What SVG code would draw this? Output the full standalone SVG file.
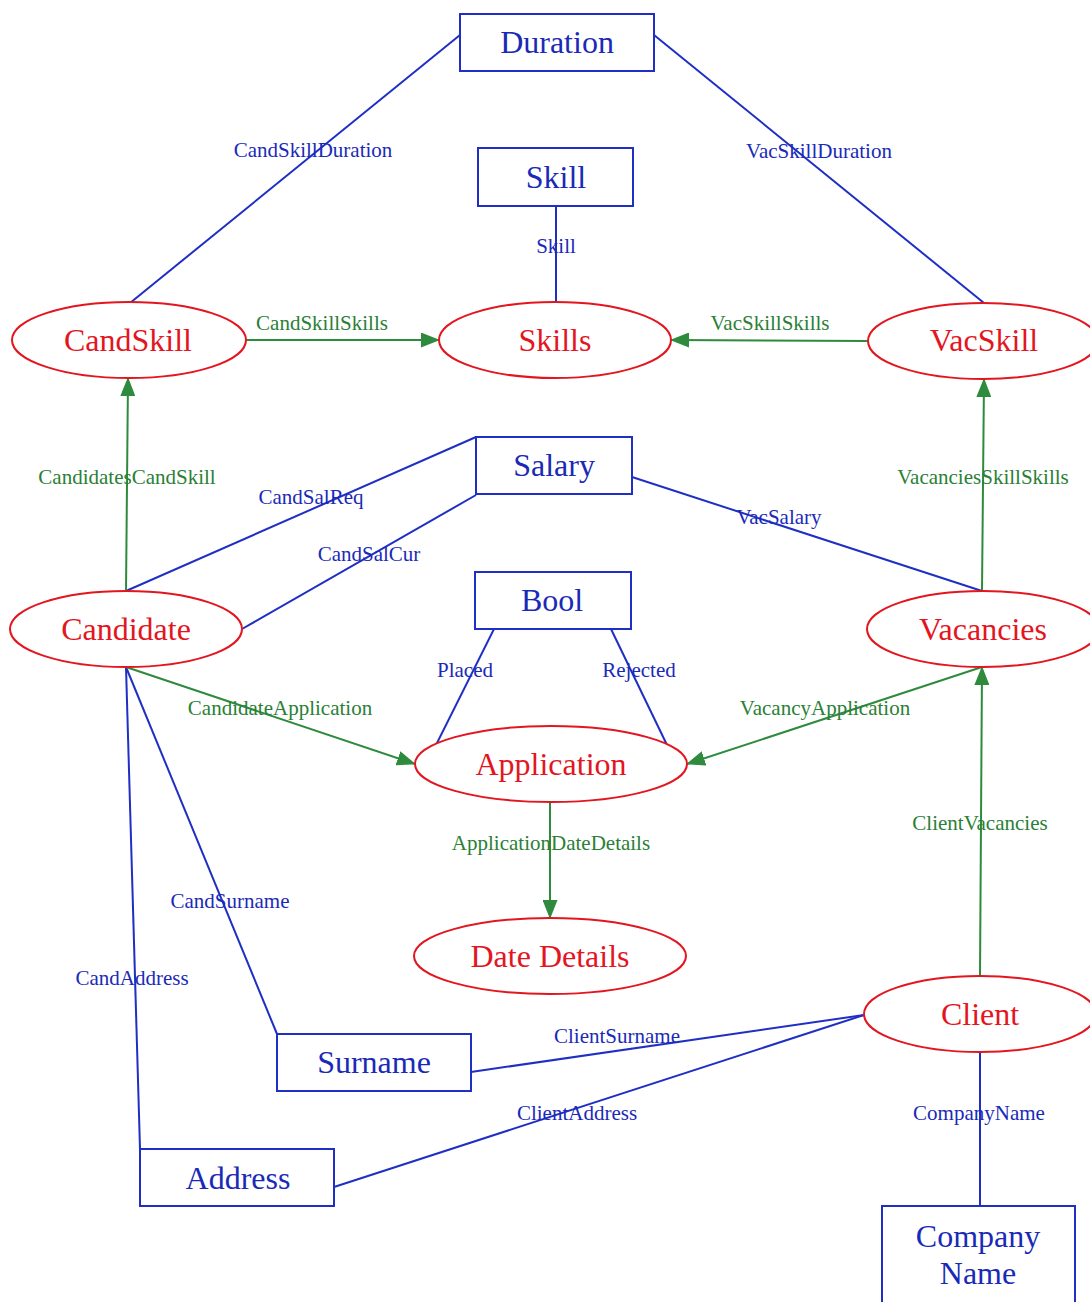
<svg xmlns="http://www.w3.org/2000/svg" width="1090" height="1302" viewBox="0 0 1090 1302">
  <style>
    .box { fill: #ffffff; stroke: #1f2fc4; stroke-width: 2; }
    .ent { fill: #ffffff; stroke: #e3161f; stroke-width: 2; }
    .boxtxt { font-family: "Liberation Serif", "Times New Roman", serif; font-size: 32px; fill: #1a2ab8; text-anchor: middle; }
    .enttxt { font-family: "Liberation Serif", "Times New Roman", serif; font-size: 32px; fill: #e3161f; text-anchor: middle; }
    .attr { fill: none; stroke: #1f2fc4; stroke-width: 2; }
    .rel { fill: none; stroke: #2e8a3c; stroke-width: 2; }
    .lblA { font-family: "Liberation Serif", "Times New Roman", serif; font-size: 21px; fill: #1a2ab8; text-anchor: middle; }
    .lblR { font-family: "Liberation Serif", "Times New Roman", serif; font-size: 21px; fill: #2a8036; text-anchor: middle; }
  </style>
  <defs>
    <marker id="arrow" markerWidth="19" markerHeight="15" refX="18" refY="7.5" orient="auto" markerUnits="userSpaceOnUse">
      <path d="M0,0 L19,7.5 L0,15 Z" fill="#2e8a3c"/>
    </marker>
  </defs>
  <rect width="1090" height="1302" fill="#ffffff"/>

  <g id="connectors">
    <!-- attribute links (blue) -->
    <line class="attr" x1="460" y1="35" x2="130" y2="303"/>
    <line class="attr" x1="654" y1="35" x2="984" y2="303"/>
    <line class="attr" x1="556" y1="206" x2="556" y2="302"/>
    <line class="attr" x1="126" y1="591" x2="476" y2="437"/>
    <line class="attr" x1="242" y1="629" x2="476" y2="495"/>
    <line class="attr" x1="632" y1="477" x2="982" y2="591"/>
    <line class="attr" x1="494" y1="629" x2="436" y2="745"/>
    <line class="attr" x1="611" y1="629" x2="667" y2="745"/>
    <line class="attr" x1="126" y1="667" x2="277" y2="1034"/>
    <line class="attr" x1="126" y1="667" x2="140" y2="1149"/>
    <line class="attr" x1="864" y1="1015" x2="471" y2="1072"/>
    <line class="attr" x1="864" y1="1015" x2="334" y2="1187"/>
    <line class="attr" x1="980" y1="1052" x2="980" y2="1206"/>

    <!-- relationship links (green, arrowed) -->
    <line class="rel" x1="246" y1="340" x2="439" y2="340" marker-end="url(#arrow)"/>
    <line class="rel" x1="868" y1="341" x2="671" y2="340" marker-end="url(#arrow)"/>
    <line class="rel" x1="126" y1="591" x2="128" y2="378" marker-end="url(#arrow)"/>
    <line class="rel" x1="982" y1="591" x2="984" y2="379" marker-end="url(#arrow)"/>
    <line class="rel" x1="126" y1="667" x2="415" y2="764" marker-end="url(#arrow)"/>
    <line class="rel" x1="982" y1="667" x2="687" y2="764" marker-end="url(#arrow)"/>
    <line class="rel" x1="550" y1="802" x2="550" y2="918" marker-end="url(#arrow)"/>
    <line class="rel" x1="980" y1="976" x2="982" y2="667" marker-end="url(#arrow)"/>

    <!-- link labels -->
    <text class="lblA" x="313" y="157">CandSkillDuration</text>
    <text class="lblA" x="819" y="158">VacSkillDuration</text>
    <text class="lblA" x="556" y="253">Skill</text>
    <text class="lblR" x="322" y="330">CandSkillSkills</text>
    <text class="lblR" x="770" y="330">VacSkillSkills</text>
    <text class="lblR" x="127" y="484">CandidatesCandSkill</text>
    <text class="lblR" x="983" y="484">VacanciesSkillSkills</text>
    <text class="lblA" x="311" y="504">CandSalReq</text>
    <text class="lblA" x="369" y="561">CandSalCur</text>
    <text class="lblA" x="779" y="524">VacSalary</text>
    <text class="lblA" x="465" y="677">Placed</text>
    <text class="lblA" x="639" y="677">Rejected</text>
    <text class="lblR" x="280" y="715">CandidateApplication</text>
    <text class="lblR" x="825" y="715">VacancyApplication</text>
    <text class="lblR" x="551" y="850">ApplicationDateDetails</text>
    <text class="lblR" x="980" y="830">ClientVacancies</text>
    <text class="lblA" x="230" y="908">CandSurname</text>
    <text class="lblA" x="132" y="985">CandAddress</text>
    <text class="lblA" x="617" y="1043">ClientSurname</text>
    <text class="lblA" x="577" y="1120">ClientAddress</text>
    <text class="lblA" x="979" y="1120">CompanyName</text>
  </g>

  <g id="Duration">
    <rect class="box" x="460" y="14" width="194" height="57"/>
    <text class="boxtxt" x="557" y="53">Duration</text>
  </g>
  <g id="Skill">
    <rect class="box" x="478" y="148" width="155" height="58"/>
    <text class="boxtxt" x="556" y="188">Skill</text>
  </g>
  <g id="CandSkill">
    <ellipse class="ent" cx="129" cy="340" rx="117" ry="38"/>
    <text class="enttxt" x="128" y="351">CandSkill</text>
  </g>
  <g id="Skills">
    <ellipse class="ent" cx="555" cy="340" rx="116" ry="38"/>
    <text class="enttxt" x="555" y="351">Skills</text>
  </g>
  <g id="VacSkill">
    <ellipse class="ent" cx="983" cy="341" rx="115" ry="38"/>
    <text class="enttxt" x="984" y="351">VacSkill</text>
  </g>
  <g id="Salary">
    <rect class="box" x="476" y="437" width="156" height="57"/>
    <text class="boxtxt" x="554" y="476">Salary</text>
  </g>
  <g id="Bool">
    <rect class="box" x="475" y="572" width="156" height="57"/>
    <text class="boxtxt" x="552" y="611">Bool</text>
  </g>
  <g id="Candidate">
    <ellipse class="ent" cx="126" cy="629" rx="116" ry="38"/>
    <text class="enttxt" x="126" y="640">Candidate</text>
  </g>
  <g id="Vacancies">
    <ellipse class="ent" cx="983" cy="629" rx="116" ry="38"/>
    <text class="enttxt" x="983" y="640">Vacancies</text>
  </g>
  <g id="Application">
    <ellipse class="ent" cx="551" cy="764" rx="136" ry="38"/>
    <text class="enttxt" x="551" y="775">Application</text>
  </g>
  <g id="DateDetails">
    <ellipse class="ent" cx="550" cy="956" rx="136" ry="38"/>
    <text class="enttxt" x="550" y="967">Date Details</text>
  </g>
  <g id="Client">
    <ellipse class="ent" cx="980" cy="1014" rx="116" ry="38"/>
    <text class="enttxt" x="980" y="1025">Client</text>
  </g>
  <g id="Surname">
    <rect class="box" x="277" y="1034" width="194" height="57"/>
    <text class="boxtxt" x="374" y="1073">Surname</text>
  </g>
  <g id="Address">
    <rect class="box" x="140" y="1149" width="194" height="57"/>
    <text class="boxtxt" x="238" y="1189">Address</text>
  </g>
  <g id="CompanyName">
    <rect class="box" x="882" y="1206" width="193" height="110"/>
    <text class="boxtxt" x="978" y="1247">Company</text>
    <text class="boxtxt" x="978" y="1284">Name</text>
  </g>
</svg>
